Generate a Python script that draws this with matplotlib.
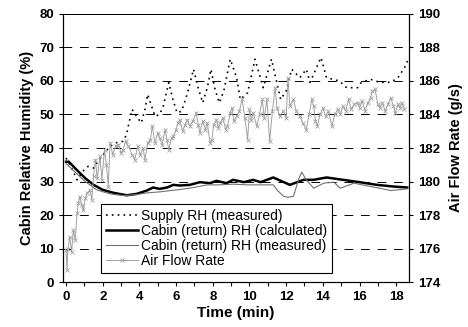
import matplotlib
matplotlib.use("Agg")
import matplotlib.pyplot as plt
from matplotlib.ticker import MultipleLocator

plt.rcParams['font.family'] = ['Liberation Sans', 'DejaVu Sans']

# Supply RH (measured), %
supply_t = [0.0, 0.3, 0.6, 0.9, 1.2, 1.5, 1.8, 2.1, 2.4, 2.7, 3.1, 3.3, 3.45, 3.6, 3.9,
            4.1, 4.3, 4.45, 4.6, 4.85, 5.1, 5.3, 5.6, 5.8, 6.05, 6.3, 6.6, 6.95, 7.2,
            7.45, 7.7, 7.9, 8.1, 8.35, 8.6, 8.95, 9.3, 9.5, 9.9, 10.3, 10.75, 11.2,
            11.7, 12.0, 12.3, 12.75, 13.1, 13.3, 13.9, 14.2, 14.9, 15.3, 15.9, 16.1,
            16.6, 17.1, 17.7, 18.1, 18.5, 18.65]
supply_rh = [37, 34, 30.5, 33, 34.5, 34, 36.5, 38.5, 40.5, 41.5, 42, 44, 48, 51.5, 49,
             47.5, 51.5, 56, 53.5, 49.5, 50, 52.5, 59.5, 55, 50.5, 51, 56, 63.5, 58,
             53.5, 58, 63.5, 58, 53.5, 57, 66.5, 61, 54.5, 56.5, 66.5, 58, 66.5,
             54.5, 57, 63.5, 61, 63.5, 59.6, 67, 61, 60, 58, 58, 59.6,
             60.5, 59.6, 59.6, 61, 64.4, 66.5]

# Cabin (return) RH (calculated), %
calc_t = [0, 0.15, 0.5, 1.04, 1.5, 2.0, 2.6, 3.3, 3.85, 4.4, 4.75, 5.1, 5.5, 5.85, 6.2,
          6.75, 7.3, 7.85, 8.2, 8.75, 9.1, 9.7, 10.2, 10.6, 11.3, 12.2, 12.95, 13.5,
          14.2, 15.1, 16.0, 16.95, 17.85, 18.6]
calc_rh = [35.9, 35.9, 33.9, 31, 29, 27.5, 26.6, 25.9, 26.3, 27.3, 28.2, 27.8, 28.2, 29,
           28.8, 29, 29.8, 29.5, 30.2, 29.5, 30.5, 29.8, 30.5, 29.8, 31.2, 29, 30.5,
           30.5, 31.2, 30.5, 29.8, 29, 28.5, 28.2]

# Cabin (return) RH (measured), %
meas_t = [0, 0.45, 1.04, 1.67, 2.4, 3.1, 3.85, 4.4, 5.1, 5.7, 6.2, 6.95, 7.7, 8.4, 9.1,
          9.9, 10.6, 11.3, 11.5, 11.85, 12.1, 12.4, 12.7, 12.85, 13.1, 13.5, 14.05,
          14.6, 14.95, 15.7, 16.6, 17.1, 17.7, 18.6]
meas_rh = [35.4, 33.0, 30.0, 27.5, 26.3, 25.8, 26.1, 26.6, 26.9, 27.3, 27.6, 28.2, 29.0,
           29.0, 29.2, 29.0, 29.0, 29.0, 27.5, 25.6, 25.3, 25.6, 31.0, 32.8, 30.5,
           28.0, 29.5, 29.8, 28.0, 29.5, 28.5, 28.0, 27.3, 27.8]

# Air flow rate, g/s
flow_t = [0.0, 0.05, 0.1, 0.2, 0.3, 0.4, 0.5, 0.6, 0.67, 0.75, 0.85, 0.95, 1.05, 1.15,
          1.3, 1.4, 1.5, 1.6, 1.7, 1.85, 1.95, 2.1, 2.2, 2.3, 2.4, 2.55, 2.7, 2.85,
          3.0, 3.1, 3.25, 3.4, 3.6, 3.75, 3.9, 4.05, 4.2, 4.3, 4.45, 4.6, 4.7, 4.85,
          5.0, 5.1, 5.25, 5.4, 5.5, 5.6, 5.75, 5.85, 6.0, 6.1, 6.2, 6.35, 6.5, 6.6,
          6.75, 6.9, 7.1, 7.2, 7.3, 7.45, 7.6, 7.7, 7.85, 7.95, 8.05, 8.2, 8.3, 8.4,
          8.55, 8.7, 8.8, 8.95, 9.05, 9.15, 9.3, 9.45, 9.6, 9.75, 9.9, 10.0, 10.1,
          10.2, 10.4, 10.55, 10.7, 10.8, 10.95, 11.1, 11.25, 11.4, 11.5, 11.65, 11.85,
          12.0, 12.1, 12.2, 12.4, 12.55, 12.75, 12.9, 13.1, 13.25, 13.4, 13.5, 13.6,
          13.7, 13.85, 14.0, 14.15, 14.3, 14.5, 14.65, 14.8, 14.95, 15.1, 15.25, 15.4,
          15.55, 15.7, 15.9, 16.0, 16.15, 16.3, 16.45, 16.6, 16.7, 16.85, 17.0, 17.1,
          17.25, 17.4, 17.55, 17.7, 17.85, 17.95, 18.1, 18.2, 18.3, 18.45]
flow = [175.9, 174.7, 176.0, 176.7, 175.8, 177.1, 176.5, 178.1, 178.7, 179.1, 178.6,
        178.3, 179.0, 179.3, 179.5, 178.9, 180.3, 181.3, 180.2, 181.5, 180.1, 181.9,
        181.0, 179.7, 182.3, 181.6, 182.1, 182.2, 181.7, 181.9, 182.4, 182.1, 181.6,
        181.3, 182.1, 181.6, 182.0, 181.3, 182.3, 182.5, 183.3, 182.3, 182.9, 182.6,
        182.2, 183.1, 182.5, 181.9, 182.6, 182.7, 183.1, 183.5, 183.7, 183.0, 183.4,
        183.7, 183.3, 183.6, 184.1, 183.4, 182.9, 183.6, 183.1, 183.5, 182.3, 182.5,
        183.4, 183.7, 183.2, 183.5, 183.8, 183.1, 183.3, 184.1, 184.4, 183.6, 183.9,
        184.2, 184.9, 183.8, 182.5, 184.3, 183.7, 184.1, 183.3, 184.0, 184.9, 183.8,
        184.9, 182.4, 184.2, 185.6, 184.4, 183.9, 184.2, 183.8, 186.2, 184.5, 184.9,
        184.2, 183.9, 183.5, 183.1, 184.0, 184.9, 184.5, 183.6, 183.3, 184.0, 184.4,
        183.9, 184.2, 183.3, 184.0, 184.3, 184.0, 184.5, 184.2, 184.9, 184.3, 184.6,
        184.7, 184.4, 184.8, 184.2, 184.7, 185.0, 185.4, 185.5, 184.6, 184.4, 184.7,
        184.2, 184.6, 185.0, 184.5, 184.1, 184.6, 184.4, 184.7, 184.3]

fig = plt.figure(figsize=(4.68, 3.27), dpi=100)
ax = fig.add_axes([0.1353, 0.1376, 0.7387, 0.8196])
ax2 = ax.twinx()

# horizontal dashed grid
for yv in range(10, 80, 10):
    ax.axhline(yv, color='black', lw=0.7, ls=(0, (9, 8)), zorder=0)

l1, = ax.plot(supply_t, supply_rh, color='black', ls=(0, (1, 2.5)), lw=1.2)
l2, = ax.plot(calc_t, calc_rh, color='black', lw=1.8)
l3, = ax.plot(meas_t, meas_rh, color='#707070', lw=0.8)
l4, = ax2.plot(flow_t, flow, color='#a0a0a0', lw=0.7, marker='x', ms=3, mew=0.6)

ax.set_xlim(-0.15, 18.7)
ax.set_ylim(0, 80)
ax2.set_ylim(174, 190)
ax.xaxis.set_major_locator(MultipleLocator(2))
ax.xaxis.set_minor_locator(MultipleLocator(1))
ax.yaxis.set_major_locator(MultipleLocator(10))
ax2.yaxis.set_major_locator(MultipleLocator(2))

ax.tick_params(axis='both', which='both', direction='out', length=3, width=0.8, labelsize=9.5)
ax2.tick_params(axis='y', direction='out', length=3, width=0.8, labelsize=9.5)
for lab in ax.get_xticklabels() + ax.get_yticklabels() + ax2.get_yticklabels():
    lab.set_fontweight('bold')

for a in (ax, ax2):
    a.spines['top'].set_linestyle((0, (1, 1)))
    a.spines['top'].set_linewidth(0.7)

ax.set_xlabel('Time (min)', fontsize=11, fontweight='bold', labelpad=2)
ax.set_ylabel('Cabin Relative Humidity (%)', fontsize=10.5, fontweight='bold', labelpad=4)
ax2.set_ylabel('Air Flow Rate (g/s)', fontsize=10.5, fontweight='bold', labelpad=6)

leg = ax2.legend([l1, l2, l3, l4],
                 ['Supply RH (measured)', 'Cabin (return) RH (calculated)',
                  'Cabin (return) RH (measured)', 'Air Flow Rate'],
                 loc='lower left', bbox_to_anchor=(0.109, 0.034), borderaxespad=0,
                 fontsize=10, fancybox=False, edgecolor='black', framealpha=1,
                 handlelength=2.3, handletextpad=0.25, labelspacing=0.08,
                 borderpad=0.35)
leg.get_frame().set_linewidth(0.8)

fig.savefig('out.png', dpi=100)
